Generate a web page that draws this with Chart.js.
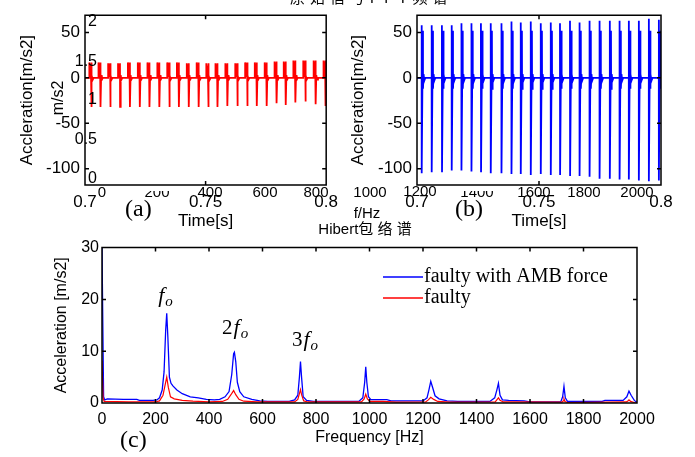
<!DOCTYPE html>
<html>
<head>
<meta charset="utf-8">
<script src="https://cdn.jsdelivr.net/npm/chart.js@4.4.0/dist/chart.umd.min.js"></script>
<style>
body { margin: 0; background: #fff; }
#wrap { position: relative; width: 695px; height: 457px; overflow: hidden; font-family: 'Liberation Sans', Arial, sans-serif; color: #000; }
canvas { position: absolute; }
.t { position: absolute; white-space: nowrap; line-height: 1; font-size: 15px; }
.c { transform: translate(-50%, -50%); }
.r { transform: translate(-100%, -50%); }
.serif { font-family: 'Liberation Serif', 'Times New Roman', serif; font-size: 24px; }
.cjk { font-family: 'Liberation Sans', 'Noto Sans CJK SC', sans-serif; }
</style>
</head>
<body>
<div id="wrap">
  <canvas id="chartA" width="345" height="235" style="left:0;top:0"></canvas>
  <canvas id="chartB" width="355" height="235" style="left:340px;top:0"></canvas>
  <canvas id="chartC" width="695" height="222" style="left:0;top:235px"></canvas>

  <!-- leftover labels from the figure underneath -->
  <div class="t cjk" style="left:290px;top:-10px;letter-spacing:5px">原始信号FFT频谱</div>
  <div class="t r" style="left:97px;top:21px;font-size:16px">2</div>
  <div class="t r" style="left:97px;top:61px;font-size:16px">1.5</div>
  <div class="t r" style="left:97px;top:99px;font-size:16px">1</div>
  <div class="t r" style="left:97px;top:139px;font-size:16px">0.5</div>
  <div class="t r" style="left:97px;top:178px;font-size:16px">0</div>
  <div class="t" style="left:58px;top:98px;font-size:16px;transform:translate(-50%,-50%) rotate(-90deg)">m/s2</div>
  <div class="t c" style="left:102px;top:191px">0</div>
  <div class="t c" style="left:157px;top:191px;clip-path:inset(50% 0 0 0)">200</div>
  <div class="t c" style="left:210px;top:191px">400</div>
  <div class="t c" style="left:265px;top:191px">600</div>
  <div class="t c" style="left:316px;top:191px">800</div>
  <div class="t c" style="left:370px;top:191px">1000</div>
  <div class="t c" style="left:420px;top:190px">1200</div>
  <div class="t c" style="left:477px;top:191px;clip-path:inset(50% 0 0 0)">1400</div>
  <div class="t c" style="left:534px;top:191px">1600</div>
  <div class="t c" style="left:584px;top:191px">1800</div>
  <div class="t c" style="left:637px;top:191px">2000</div>
  <div class="t c" style="left:367px;top:212px">f/Hz</div>
  <div class="t c cjk" style="left:365px;top:228px">Hibert包 络 谱</div>

  <div class="t serif" style="left:125px;top:196px">(a)</div>
  <div class="t serif" style="left:455px;top:196px">(b)</div>
  <div class="t serif" style="left:120px;top:427px">(c)</div>
</div>

<script>
// Time-domain tick values (panels a and b)
var timeTicks = [0.7, 0.75, 0.8];
var accelTicks = [-100, -50, 0, 50];

// Panel (a): faulty signal, one entry per impulse
var pulseTimeA = [0.7026, 0.7064, 0.7104, 0.7145, 0.7186, 0.7227, 0.7267, 0.7308, 0.7349, 0.7389,
                  0.7430, 0.7471, 0.7511, 0.7549, 0.7590, 0.7631, 0.7672, 0.7712, 0.7753, 0.7794,
                  0.7832, 0.7872, 0.7913, 0.7956, 0.7997];
var pulseTopA = [17, 17, 16, 16, 17, 17, 17, 17, 17, 17, 16, 17, 16, 16, 16, 16, 17, 17, 17, 18,
                 18, 19, 19, 19, 19];
var pulseBottomA = [-32, -32, -32, -32, -32, -32, -32, -32, -32, -32, -32, -32, -32, -32, -31, -31,
                    -31, -31, -31, -28, -30, -27, -26, -29, -31];

// Panel (b): faulty signal with AMB force
var pulseTimeB = [0.7019, 0.7060, 0.7102, 0.7142, 0.7182, 0.7223, 0.7262, 0.7302, 0.7346, 0.7387,
                  0.7425, 0.7466, 0.7507, 0.7548, 0.7586, 0.7627, 0.7666, 0.7707, 0.7748, 0.7790,
                  0.7830, 0.7868, 0.7909, 0.7950, 0.7991];
var pulseTopB = [58, 58, 58, 58, 60, 60, 60, 60, 60, 62, 61, 62, 60, 61, 60, 63, 61, 63, 63, 63,
                 63, 63, 63, 65, 64];
var pulseBottomB = [-105, -104, -104, -102, -102, -103, -104, -105, -105, -106, -106, -107, -106, -107,
                    -107, -108, -108, -109, -111, -111, -112, -112, -113, -114, -113];
var pulseSecondTopB = [52, 52, 52, 52, 52, 52, 52, 52, 52, 52, 52, 52, 52, 52, 52, 52, 52, 52, 52, 52,
                       52, 52, 52, 52, 52];
var pulseSecondBottomB = [-12, -12, -12, -12, -12, -12, -12, -12, -12, -12, -12, -12, -12, -12, -12, -12,
                          -12, -12, -12, -12, -12, -12, -12, -12, -12];

// Panel (c): spectra
var freqTicks = [0, 200, 400, 600, 800, 1000, 1200, 1400, 1600, 1800, 2000];
var specTicks = [0, 10, 20, 30];

var freqAmb = [0, 6, 10, 20, 80, 130, 140, 190, 205, 215, 225, 232, 238, 242, 246, 252, 258, 265, 280,
               300, 330, 360, 390, 420, 440, 460, 475, 485, 492, 495, 500, 506, 515, 530, 560, 590, 620,
               700, 720, 732, 738, 742, 746, 752, 765, 790, 960, 975, 982, 986, 990, 996, 1005, 1065,
               1080, 1200, 1215, 1222, 1229, 1236, 1245, 1260, 1275, 1290, 1330, 1450, 1468, 1476, 1482,
               1488, 1497, 1520, 1578, 1600, 1715, 1722, 1727, 1732, 1740, 1870, 1880, 1948, 1962, 1970,
               1978, 1990, 2000];
var ampAmb = [30, 1.2, 0.6, 0.8, 0.7, 0.7, 0.5, 0.5, 0.6, 1.0, 2.5, 6, 14, 17.3, 13, 5, 3.8, 3.3, 2.5,
              1.8, 1.2, 1.0, 0.7, 0.6, 0.7, 1.2, 2.2, 5.5, 9.5, 9.8, 8, 4, 2.2, 1.2, 0.7, 0.4, 0.3,
              0.3, 0.6, 1.5, 5, 8.0, 5, 1.2, 0.5, 0.3, 0.3, 1.0, 4, 7.0, 4, 1.2, 0.65, 0.65,
              0.4, 0.4, 1.0, 2.5, 4.2, 3.0, 1.4, 0.8, 0.6, 0.4, 0.3, 0.3, 1.0, 2.5, 3.8,
              1.5, 0.6, 0.5, 0.4, 0.2, 0.2, 1.2, 3.2, 1.0, 0.3, 0.3, 0.5, 0.5, 1.2, 2.3,
              1.5, 0.5, 0.1];

var freqFaulty = [0, 4, 8, 100, 200, 215, 228, 236, 242, 248, 256, 270, 300, 340, 400, 450, 470, 482,
                  492, 500, 512, 530, 580, 720, 732, 738, 742, 746, 754, 770, 970, 980, 986, 992, 1002,
                  1050, 1100, 1210, 1220, 1229, 1240, 1255, 1300, 1470, 1476, 1482, 1488, 1500, 1720,
                  1724, 1727, 1731, 1740, 1960, 1966, 1970, 1976, 1990, 2000];
var ampFaulty = [8.2, 1.0, 0.3, 0.2, 0.2, 0.4, 1.5, 3.5, 5.0, 3, 1.2, 0.8, 0.5, 0.35, 0.2, 0.3, 0.7, 1.6,
                 2.4, 1.6, 0.7, 0.35, 0.2, 0.2, 0.7, 1.8, 2.6, 1.6, 0.4, 0.2, 0.2, 0.8, 1.7, 0.8, 0.3,
                 0.3, 0.15, 0.2, 0.6, 1.1, 0.7, 0.3, 0.15, 0.2, 0.6, 1.0, 0.5, 0.2, 0.15,
                 0.4, 0.8, 0.3, 0.1, 0.2, 0.4, 0.6, 0.3, 0.1, 0.05];

Chart.defaults.font.family = "'Liberation Sans', Arial, sans-serif";
Chart.defaults.color = '#000';

// Turn each read-off impulse into a short spike for panel (a)
function spikesA() {
    var pts = [{x: 0.7, y: 0}];
    for (var i = 0; i < pulseTimeA.length; i++) {
        var t = pulseTimeA[i];
        pts.push({x: t - 0.0008, y: 0});
        pts.push({x: t - 0.0008, y: pulseTopA[i]});
        pts.push({x: t - 0.0001, y: 1});
        pts.push({x: t, y: pulseTopA[i]});
        pts.push({x: t + 0.00005, y: pulseBottomA[i]});
        pts.push({x: t + 0.0003, y: 3});
        pts.push({x: t + 0.0006, y: -2});
        pts.push({x: t + 0.001, y: 0});
    }
    return pts;
}

// Same for panel (b), which has a second, shorter swing after the main one
function spikesB() {
    var pts = [{x: 0.7, y: 0}];
    for (var i = 0; i < pulseTimeB.length; i++) {
        var t = pulseTimeB[i];
        pts.push({x: t, y: 0});
        pts.push({x: t, y: pulseTopB[i]});
        pts.push({x: t + 0.00005, y: pulseBottomB[i]});
        pts.push({x: t + 0.0005, y: pulseSecondTopB[i]});
        pts.push({x: t + 0.00055, y: pulseSecondBottomB[i]});
        pts.push({x: t + 0.0008, y: 4});
        pts.push({x: t + 0.0011, y: -3});
        pts.push({x: t + 0.0015, y: 0});
    }
    return pts;
}

function pairs(xs, ys) {
    return xs.map(function(x, i) { return {x: x, y: ys[i]}; });
}

// MATLAB style box with inward ticks on all four sides
var boxPlugin = {
    id: 'matlabBox',
    afterDatasetsDraw: function(chart) {
        var a = chart.chartArea, ctx = chart.ctx;
        var xs = chart.scales.x, ys = chart.scales.y;
        ctx.save();
        ctx.strokeStyle = '#000';
        ctx.lineWidth = 1.5;
        ctx.beginPath();
        ctx.rect(a.left, a.top, a.right - a.left, a.bottom - a.top);
        xs.ticks.forEach(function(t) {
            var px = xs.getPixelForValue(t.value);
            ctx.moveTo(px, a.top); ctx.lineTo(px, a.top + 4);
            ctx.moveTo(px, a.bottom); ctx.lineTo(px, a.bottom - 4);
        });
        ys.ticks.forEach(function(t) {
            var py = ys.getPixelForValue(t.value);
            ctx.moveTo(a.left, py); ctx.lineTo(a.left + 4, py);
            ctx.moveTo(a.right, py); ctx.lineTo(a.right - 4, py);
        });
        ctx.stroke();
        ctx.restore();
    }
};

// Legend and harmonic labels for panel (c)
var spectrumLabels = {
    id: 'spectrumLabels',
    afterDraw: function(chart, args, opts) {
        var ctx = chart.ctx;
        var xs = chart.scales.x, ys = chart.scales.y;
        ctx.save();
        ctx.textBaseline = 'middle';
        ctx.textAlign = 'left';
        ctx.font = "20px 'Liberation Serif', 'Times New Roman', serif";
        chart.data.datasets.forEach(function(ds, i) {
            var y = opts.legendY[i];
            ctx.strokeStyle = ds.borderColor;
            ctx.lineWidth = 1.3;
            ctx.beginPath();
            ctx.moveTo(opts.legendX, y);
            ctx.lineTo(opts.legendX + 40, y);
            ctx.stroke();
            ctx.fillStyle = '#000';
            ctx.fillText(ds.label, opts.legendX + 41, y);
        });
        ctx.textBaseline = 'alphabetic';
        opts.harmonics.forEach(function(h) {
            var x = xs.getPixelForValue(h.freq);
            var y = ys.getPixelForValue(h.level);
            ctx.font = "21px 'Liberation Serif', 'Times New Roman', serif";
            if (h.n) {
                ctx.fillText(h.n, x, y);
                x += ctx.measureText(h.n).width + 1;
            }
            ctx.font = "italic 22px 'Liberation Serif', 'Times New Roman', serif";
            ctx.fillText('f', x, y);
            x += ctx.measureText('f').width + 1;
            ctx.font = "italic 15px 'Liberation Serif', 'Times New Roman', serif";
            ctx.fillText('o', x, y + 4);
        });
        ctx.restore();
    }
};

function timeOptions(yAxisWidth, titlePad, rightPad) {
    return {
        responsive: false,
        animation: false,
        events: [],
        layout: { padding: { top: 11, right: rightPad, left: 0, bottom: 0 } },
        plugins: { legend: { display: false }, tooltip: { enabled: false } },
        scales: {
            x: {
                type: 'linear', min: 0.7, max: 0.8,
                grid: { display: false, drawTicks: false }, border: { display: false },
                afterBuildTicks: function(s) { s.ticks = timeTicks.map(function(v) { return {value: v}; }); },
                afterFit: function(s) { s.height = 50; },
                ticks: { padding: 7, maxRotation: 0, font: { size: 17 }, callback: function(v) { return String(v); } },
                title: { display: true, text: 'Time[s]', font: { size: 17 }, padding: { top: 0, bottom: 3 } }
            },
            y: {
                min: -118, max: 69,
                grid: { display: false, drawTicks: false }, border: { display: false },
                afterBuildTicks: function(s) { s.ticks = accelTicks.map(function(v) { return {value: v}; }); },
                afterFit: function(s) { s.width = yAxisWidth; },
                ticks: { padding: 5, font: { size: 17 } },
                title: { display: true, text: 'Accleration[m/s2]', font: { size: 17 }, padding: { top: titlePad, bottom: 0 } }
            }
        }
    };
}

new Chart(document.getElementById('chartA'), {
    type: 'line',
    data: { datasets: [{ data: spikesA(), borderColor: '#ff0000', borderWidth: 1.8, pointRadius: 0, tension: 0 }] },
    options: timeOptions(85, 17, 14),
    plugins: [boxPlugin]
});

new Chart(document.getElementById('chartB'), {
    type: 'line',
    data: { datasets: [{ data: spikesB(), borderColor: '#0000ff', borderWidth: 1.8, pointRadius: 0, tension: 0 }] },
    options: timeOptions(77, 8, 34),
    plugins: [boxPlugin]
});

new Chart(document.getElementById('chartC'), {
    type: 'line',
    data: {
        datasets: [
            { label: 'faulty with AMB force', data: pairs(freqAmb, ampAmb), borderColor: '#0000ff', borderWidth: 1.3, pointRadius: 0, tension: 0, order: 2 },
            { label: 'faulty', data: pairs(freqFaulty, ampFaulty), borderColor: '#ff0000', borderWidth: 1.2, pointRadius: 0, tension: 0, order: 1 }
        ]
    },
    options: {
        responsive: false,
        animation: false,
        events: [],
        layout: { padding: { top: 12, right: 58, left: 0, bottom: 0 } },
        plugins: {
            legend: { display: false },
            tooltip: { enabled: false },
            spectrumLabels: {
                legendX: 383,
                legendY: [42, 63],
                harmonics: [
                    { n: '', freq: 210, level: 19.5 },
                    { n: '2', freq: 449, level: 13.4 },
                    { n: '3', freq: 710, level: 11.1 }
                ]
            }
        },
        scales: {
            x: {
                type: 'linear', min: 0, max: 2000,
                grid: { display: false, drawTicks: false }, border: { display: false },
                afterBuildTicks: function(s) { s.ticks = freqTicks.map(function(v) { return {value: v}; }); },
                afterFit: function(s) { s.height = 54; },
                ticks: { padding: 7, maxRotation: 0, autoSkip: false, font: { size: 16 }, callback: function(v) { return String(v); } },
                title: { display: true, text: 'Frequency [Hz]', font: { size: 16 }, padding: { top: 0, bottom: 10 } }
            },
            y: {
                min: 0, max: 30,
                grid: { display: false, drawTicks: false }, border: { display: false },
                afterBuildTicks: function(s) { s.ticks = specTicks.map(function(v) { return {value: v}; }); },
                afterFit: function(s) { s.width = 102; },
                ticks: { padding: 3, font: { size: 16 } },
                title: { display: true, text: 'Acceleration [m/s2]', font: { size: 16 }, padding: { top: 52, bottom: 0 } }
            }
        }
    },
    plugins: [boxPlugin, spectrumLabels]
});
</script>
</body>
</html>
